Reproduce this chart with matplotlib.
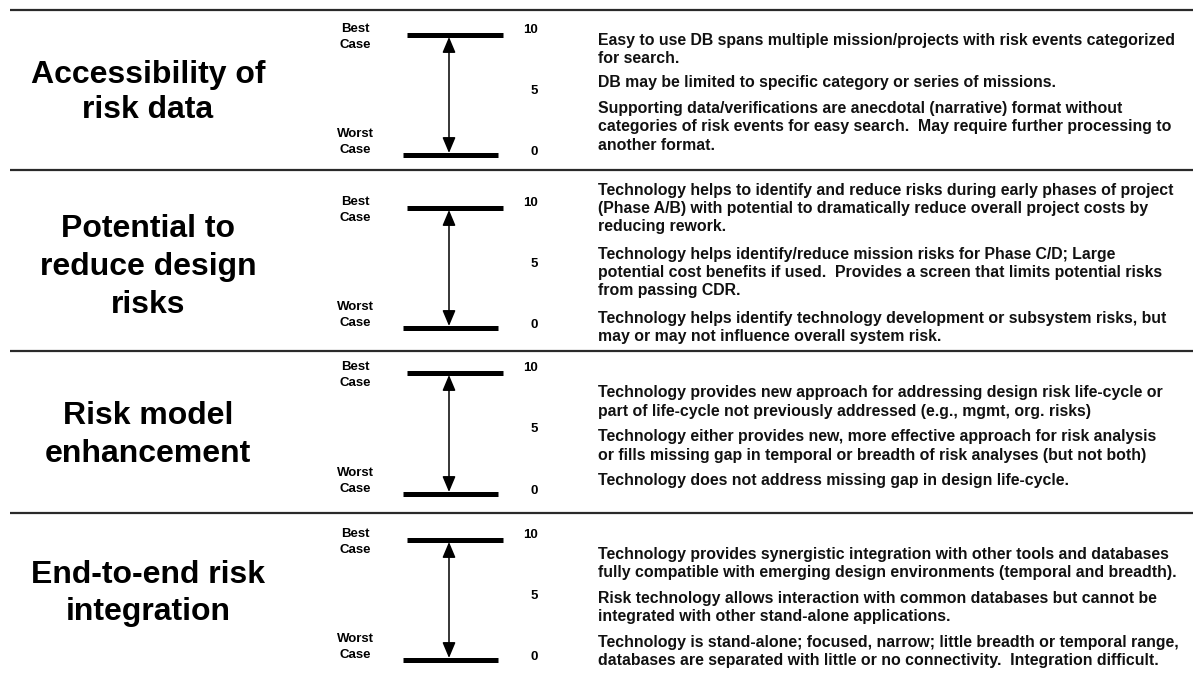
import matplotlib
matplotlib.use("Agg")
import matplotlib.pyplot as plt

plt.rcParams['font.family'] = ['Liberation Sans', 'DejaVu Sans']

# ---------------- data ----------------
criteria = [
    ["Accessibility of", "risk data"],
    ["Potential to", "reduce design", "risks"],
    ["Risk model", "enhancement"],
    ["End-to-end risk", "integration"],
]
scale_values = [10, 5, 0]
scale_labels = ["10", "5", "0"]
best_label = ["Best", "Case"]
worst_label = ["Worst", "Case"]

descriptions = [
    [
        ["Easy to use DB spans multiple mission/projects with risk events categorized",
         "for search."],
        ["DB may be limited to specific category or series of missions."],
        ["Supporting data/verifications are anecdotal (narrative) format without",
         "categories of risk events for easy search.  May require further processing to",
         "another format."],
    ],
    [
        ["Technology helps to identify and reduce risks during early phases of project",
         "(Phase A/B) with potential to dramatically reduce overall project costs by",
         "reducing rework."],
        ["Technology helps identify/reduce mission risks for Phase C/D; Large",
         "potential cost benefits if used.  Provides a screen that limits potential risks",
         "from passing CDR."],
        ["Technology helps identify technology development or subsystem risks, but",
         "may or may not influence overall system risk."],
    ],
    [
        ["Technology provides new approach for addressing design risk life-cycle or",
         "part of life-cycle not previously addressed (e.g., mgmt, org. risks)"],
        ["Technology either provides new, more effective approach for risk analysis",
         "or fills missing gap in temporal or breadth of risk analyses (but not both)"],
        ["Technology does not address missing gap in design life-cycle."],
    ],
    [
        ["Technology provides synergistic integration with other tools and databases",
         "fully compatible with emerging design environments (temporal and breadth)."],
        ["Risk technology allows interaction with common databases but cannot be",
         "integrated with other stand-alone applications."],
        ["Technology is stand-alone; focused, narrow; little breadth or temporal range,",
         "databases are separated with little or no connectivity.  Integration difficult."],
    ],
]

# ---------------- layout (pixel coordinates) ----------------
W, H = 1193, 679
separators = [10, 170, 351, 513]
title_baselines = [[83, 118], [237, 275, 313], [424, 462], [583, 620]]
bar_top_y = [35, 208, 373, 540]
bar_bot_y = [155, 328, 494, 660]
para_start = [[40, 83, 108.5], [190, 254, 318], [393, 437, 481], [554, 598, 642]]
line_gap = 18.3

fig = plt.figure(figsize=(W / 100, H / 100), dpi=100)
ax = fig.add_axes([0, 0, 1, 1])
ax.set_xlim(0, W)
ax.set_ylim(H, 0)
ax.axis('off')

for y in separators:
    ax.plot([10, W], [y, y], color='#2a2a2a', lw=1.6, solid_capstyle='butt')

title_x = 148
label_x = 355
num_x = 538
arrow_x = 449
text_x = 598

for i in range(4):
    # title
    for line, y in zip(criteria[i], title_baselines[i]):
        ax.text(title_x, y, line, ha='center', va='baseline', fontsize=23,
                fontweight='bold', color='black')

    yt, yb = bar_top_y[i], bar_bot_y[i]

    def ypos(v):
        return yb + (yt - yb) * v / 10.0

    # bars
    ax.plot([407, 503], [ypos(10), ypos(10)], color='black', lw=3.6,
            solid_capstyle='butt')
    ax.plot([403, 498], [ypos(0), ypos(0)], color='black', lw=3.6,
            solid_capstyle='butt')
    # double-headed arrow
    ax.annotate('', xy=(arrow_x, ypos(10) + 2), xytext=(arrow_x, ypos(0) - 2),
                arrowprops=dict(arrowstyle='<|-|>,head_length=0.95,head_width=0.4',
                                lw=1.1, color='black', shrinkA=0, shrinkB=0))
    # scale numbers
    for v, lab in zip(scale_values, scale_labels):
        off = {10: -2, 5: -1, 0: 0}[v]
        ax.text(num_x, ypos(v) + off, lab, ha='right', va='baseline',
                fontsize=9.5, fontweight='bold', color='black')
    # best / worst labels
    ax.text(label_x, ypos(10) - 3, best_label[0], ha='center', va='baseline',
            fontsize=9.5, fontweight='bold')
    ax.text(label_x, ypos(10) + 13, best_label[1], ha='center', va='baseline',
            fontsize=9.5, fontweight='bold')
    ax.text(label_x, ypos(0) - 18, worst_label[0], ha='center', va='baseline',
            fontsize=9.5, fontweight='bold')
    ax.text(label_x, ypos(0) - 2, worst_label[1], ha='center', va='baseline',
            fontsize=9.5, fontweight='bold')

    # descriptions
    for para, y0 in zip(descriptions[i], para_start[i]):
        for k, line in enumerate(para):
            ax.text(text_x, y0 + k * line_gap, line, ha='left', va='center',
                    fontsize=11.4, fontweight='bold', color='#111111')

fig.savefig('out.png', dpi=100)
